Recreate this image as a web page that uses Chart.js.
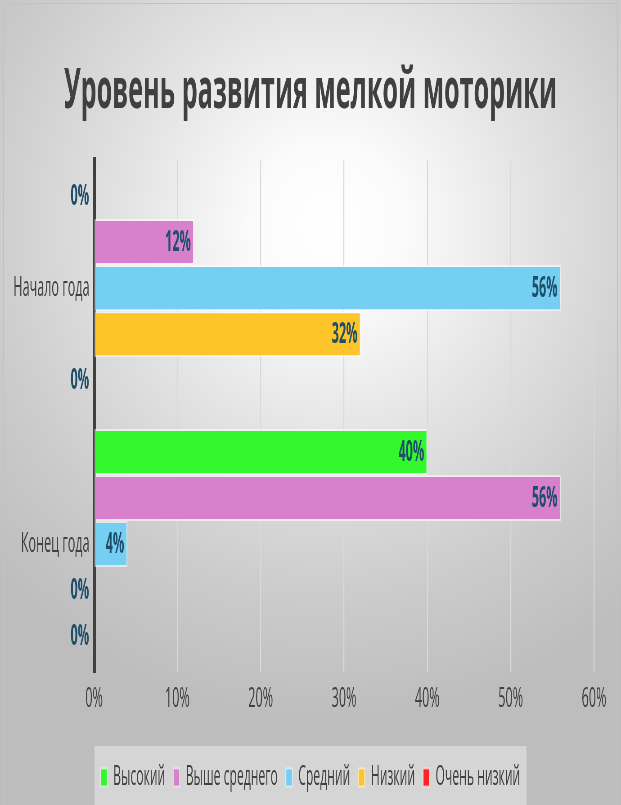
<!DOCTYPE html>
<html>
<head>
<meta charset="utf-8">
<script src="https://cdn.jsdelivr.net/npm/chart.js@4.4.1/dist/chart.umd.min.js"></script>
<style>
  html, body { margin: 0; padding: 0; }
  #frame {
    position: relative; width: 621px; height: 805px; overflow: hidden;
    background: radial-gradient(ellipse 75% 62% at 53% 28%, #ffffff 0%, #fbfbfb 16%, #e2e2e2 45%, #cbcbcb 75%, #bdbdbd 100%);
  }
  #edge { position: absolute; left: 3px; top: 3px; right: 3px; bottom: -2px; border: 1px solid #c2c2c2; }
  /* the chart is drawn wide and squeezed, like the original */
  #wide { position: absolute; left: 0; top: 0; width: 1380px; height: 805px; transform: scaleX(0.45); transform-origin: 0 0; }
</style>
</head>
<body>
<div id="frame">
  <div id="edge"></div>
  <div id="wide"><canvas id="chart1"></canvas></div>
</div>
<script>
var categories = ['Начало года', 'Конец года'];
var seriesNames = ['Высокий', 'Выше среднего', 'Средний', 'Низкий', 'Очень низкий'];
var vysokiy = [0, 40];
var vysheSrednego = [12, 56];
var sredniy = [56, 4];
var nizkiy = [32, 0];
var ochenNizkiy = [0, 0];
var xTicks = [0, 10, 20, 30, 40, 50, 60];

var colors = ['#33f82d', '#d880cc', '#75cff2', '#fdc52a', '#ff2222'];
var values = [vysokiy, vysheSrednego, sredniy, nizkiy, ochenNizkiy];

// percent labels at the bar ends
var barLabels = {
    id: 'barLabels',
    afterDatasetsDraw: function(chart) {
        var ctx = chart.ctx;
        ctx.save();
        ctx.font = 'bold 28px "Open Sans"';
        ctx.fillStyle = '#1f4e6b';
        ctx.textAlign = 'right';
        ctx.textBaseline = 'middle';
        chart.data.datasets.forEach(function(ds, i) {
            chart.getDatasetMeta(i).data.forEach(function(bar, j) {
                var v = ds.data[j];
                var x = v === 0 ? bar.x - 11 : bar.x - 7;
                ctx.fillText(v + '%', x, bar.y + 1);
            });
        });
        ctx.restore();
    }
};

// grey panel behind the legend
var legendPanel = {
    id: 'legendPanel',
    beforeDraw: function(chart) {
        var lg = chart.legend;
        if (!lg || !lg.legendHitBoxes.length) return;
        var boxes = lg.legendHitBoxes;
        var left = boxes[0].left - 14;
        var last = boxes[boxes.length - 1];
        var right = last.left + last.width + 14;
        var ctx = chart.ctx;
        ctx.save();
        ctx.fillStyle = '#d5d5d5';
        ctx.fillRect(left, lg.top, right - left, chart.height - lg.top);
        ctx.restore();
    }
};

var ctx = document.getElementById('chart1').getContext('2d');
var myChart = new Chart(ctx, {
    type: 'bar',
    data: {
        labels: categories,
        datasets: seriesNames.map(function(name, i) {
            return {
                label: name,
                data: values[i],
                yAxisID: 'y',
                backgroundColor: colors[i],
                borderColor: 'rgba(255,255,255,0.55)',
                borderWidth: 2,
                borderSkipped: false,
                barPercentage: 1,
                categoryPercentage: 0.9
            };
        })
    },
    options: {
        indexAxis: 'y',
        responsive: true,
        maintainAspectRatio: false,
        animation: false,
        layout: { padding: { left: 0, right: 0, top: 0, bottom: 4 } },
        plugins: {
            title: {
                display: true,
                text: 'Уровень развития мелкой моторики',
                color: '#404040',
                font: { family: 'Open Sans', weight: 'bold', size: 56, lineHeight: 1.2 },
                padding: { top: 58, bottom: 35 }
            },
            legend: {
                position: 'bottom',
                labels: {
                    color: '#404040',
                    font: { family: 'Open Sans', size: 27 },
                    boxWidth: 14,
                    boxHeight: 18,
                    padding: 18
                }
            },
            tooltip: { enabled: false }
        },
        scales: {
            x: {
                min: 0,
                max: 60,
                afterBuildTicks: function(scale) {
                    scale.ticks = xTicks.map(function(v) { return { value: v }; });
                },
                afterFit: function(scale) { scale.height = 74; },
                ticks: {
                    color: '#404040',
                    font: { family: 'Open Sans', size: 28 },
                    padding: 10,
                    callback: function(v) { return v + '%'; }
                },
                grid: { color: '#d9d9d9', lineWidth: 2.2, drawTicks: false },
                border: { display: false }
            },
            y: {
                afterFit: function(scale) { scale.width = 209; },
                ticks: {
                    color: '#404040',
                    font: { family: 'Open Sans', size: 28 },
                    padding: 10
                },
                grid: { display: false, drawTicks: false },
                border: { display: true, color: '#404040', width: 7 }
            },
            // empty strip on the right so title and legend stay centred on the page
            y2: {
                type: 'category',
                position: 'right',
                afterFit: function(scale) { scale.width = 60; },
                ticks: { display: false },
                grid: { display: false, drawTicks: false },
                border: { display: false }
            }
        }
    },
    plugins: [legendPanel, barLabels]
});
</script>
</body>
</html>
